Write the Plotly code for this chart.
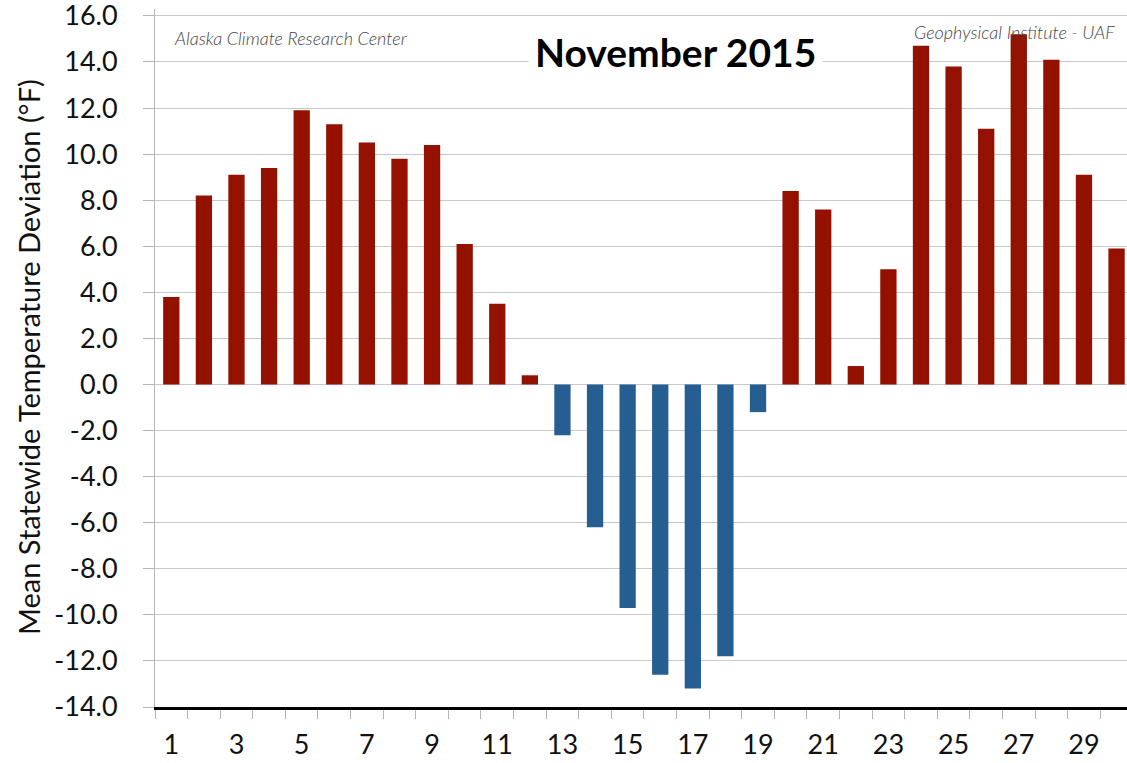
import plotly.graph_objects as go

days = list(range(1, 31))
deviation = [3.8, 8.2, 9.1, 9.4, 11.9, 11.3, 10.5, 9.8, 10.4, 6.1,
             3.5, 0.4, -2.2, -6.2, -9.7, -12.6, -13.2, -11.8, -1.2, 8.4,
             7.6, 0.8, 5.0, 14.7, 13.8, 11.1, 15.2, 14.1, 9.1, 5.9]
x_tick_days = [d for d in days if d % 2 == 1]
x_tick_labels = [str(d) for d in x_tick_days]
y_ticks = list(range(-14, 17, 2))
y_tick_labels = [f"{v:.1f}" for v in y_ticks]

WARM = "#941100"
COLD = "#275E92"
colors = [WARM if v >= 0 else COLD for v in deviation]

fig = go.Figure()
fig.add_trace(go.Bar(x=days, y=deviation, marker=dict(color=colors, line=dict(width=0)),
                     width=0.5, showlegend=False))

FONT = "Lato, 'Open Sans', sans-serif"
GRID = "#c9c9c9"
TOP, BOTTOM = 9, 707
PH = BOTTOM - TOP


def py(ypix):
    return (BOTTOM - ypix) / PH


fig.update_layout(
    width=1127, height=763,
    margin=dict(l=155, r=0, t=TOP, b=763 - BOTTOM, autoexpand=False),
    paper_bgcolor="white", plot_bgcolor="white",
    font=dict(family=FONT, color="#111111"),
    xaxis=dict(
        range=[0.5, 30.32], tickmode="array", tickvals=x_tick_days, ticktext=x_tick_labels,
        ticks="", showgrid=False, zeroline=False,
        showline=True, linecolor="black", linewidth=3,
        tickfont=dict(size=27, family=FONT, color="#111111"),
        ticklabelstandoff=12, ticklabeloverflow="allow",
        minor=dict(tickvals=[d - 0.5 for d in days], ticks="outside", ticklen=9,
                   tickcolor="#b5b5b5", tickwidth=1, showgrid=False),
    ),
    yaxis=dict(
        range=[-14, 16.3], tickmode="array", tickvals=y_ticks, ticktext=y_tick_labels,
        showgrid=True, gridcolor=GRID, gridwidth=1,
        zeroline=True, zerolinecolor=GRID, zerolinewidth=1,
        showline=True, linecolor="#b5b5b5", linewidth=1,
        ticks="outside", ticklen=11, tickcolor="#b5b5b5",
        tickfont=dict(size=27, family=FONT, color="#111111"),
        ticklabelstandoff=20, ticklabeloverflow="allow",
    ),
    annotations=[
        dict(text="<b>November 2015</b>", xref="paper", yref="paper",
             x=(675 - 155) / 972, y=py(52), xanchor="center", yanchor="middle",
             showarrow=False, bgcolor="white", borderpad=6,
             font=dict(size=39, family=FONT, color="black")),
        dict(text="Alaska Climate Research Center", xref="paper", yref="paper",
             x=(172 - 155) / 972, y=py(38), xanchor="left", yanchor="middle",
             showarrow=False,
             font=dict(size=18, family=FONT, color="#444444", style="italic", weight=300)),
        dict(text="Geophysical Institute - UAF", xref="paper", yref="paper",
             x=(1117 - 155) / 972, y=py(32), xanchor="right", yanchor="middle",
             showarrow=False,
             font=dict(size=18, family=FONT, color="#444444", style="italic", weight=300)),
        dict(text="Mean Statewide Temperature Deviation (°F)", xref="paper", yref="paper",
             x=(28 - 155) / 972, y=py(357), xanchor="center", yanchor="middle",
             textangle=-90, showarrow=False,
             font=dict(size=29, family=FONT, color="#111111")),
    ],
)

fig.write_html("out.html", config={"displayModeBar": False},
               post_script="document.body.style.margin='0';document.body.style.padding='0';")
